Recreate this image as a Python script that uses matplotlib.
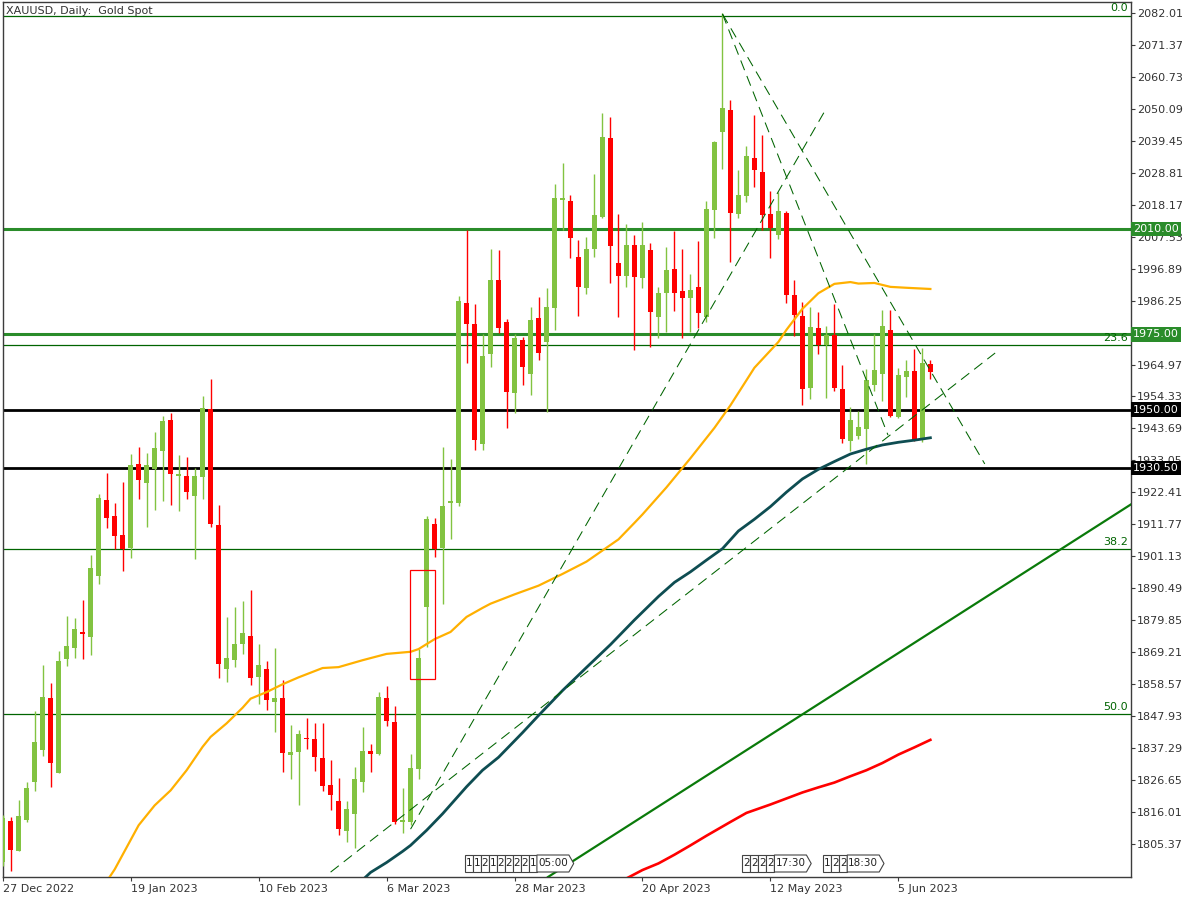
import matplotlib.pyplot as plt
from matplotlib.patches import Rectangle, Polygon
import matplotlib.transforms as mtransforms

# daily candles, bar 0 = 27 Dec 2022
opens = [1799.5, 1813.1, 1803.1, 1813.4, 1826.2, 1836.7, 1854.0, 1829.2, 1867.1, 1870.8,
         1876.0, 1874.4, 1894.7, 1919.9, 1914.6, 1908.3, 1904.0, 1931.9, 1925.7, 1930.3,
         1936.3, 1946.5, 1928.0, 1927.9, 1921.3, 1927.6, 1950.1, 1911.6, 1863.8, 1866.8,
         1872.1, 1874.6, 1861.0, 1863.7, 1852.8, 1854.0, 1835.2, 1836.2, 1840.7, 1840.4,
         1834.1, 1825.1, 1819.8, 1809.9, 1815.6, 1826.2, 1836.4, 1835.4, 1854.0, 1846.0,
         1812.9, 1812.9, 1830.5, 1884.4, 1911.9, 1904.0, 1918.8, 1918.8, 1985.4, 1978.4,
         1938.5, 1968.6, 1993.1, 1979.1, 1955.6, 1973.1, 1961.9, 1980.4, 1972.6, 1983.9,
         2019.7, 2019.4, 2000.7, 1990.5, 2003.5, 2014.0, 2040.3, 1998.7, 1994.5, 2004.7,
         1993.6, 2003.0, 1980.9, 1988.8, 1996.7, 1989.4, 1987.2, 1990.7, 1980.9, 2016.4,
         2042.4, 2049.6, 2015.1, 2021.1, 2033.7, 2029.0, 2015.0, 2008.0, 2015.3, 1988.1,
         1981.1, 1957.3, 1977.1, 1971.6, 1974.9, 1956.8, 1939.6, 1941.3, 1943.5, 1958.3,
         1961.9, 1976.4, 1947.6, 1960.9, 1962.8, 1939.9, 1965.1]
highs = [1815.0, 1814.6, 1820.1, 1826.1, 1849.7, 1865.0, 1859.1, 1869.7, 1881.3, 1880.6,
         1886.6, 1901.5, 1921.9, 1928.9, 1918.9, 1925.9, 1935.2, 1937.5, 1935.5, 1942.5,
         1947.8, 1948.8, 1934.9, 1934.2, 1930.7, 1954.5, 1960.0, 1918.2, 1881.0, 1884.3,
         1886.3, 1890.0, 1872.0, 1866.3, 1870.7, 1860.0, 1845.0, 1843.4, 1847.5, 1845.8,
         1845.8, 1833.4, 1827.4, 1819.8, 1831.2, 1844.5, 1838.7, 1856.0, 1858.0, 1851.4,
         1824.1, 1835.5, 1870.3, 1914.6, 1913.9, 1937.5, 1933.5, 1987.8, 2009.7, 1985.1,
         1975.1, 2003.4, 2003.1, 1980.1, 1975.1, 1974.1, 1984.1, 1987.4, 1990.5, 2025.0,
         2032.0, 2021.4, 2006.4, 2007.4, 2028.3, 2048.6, 2047.3, 2015.0, 2011.7, 2008.0,
         2012.5, 2005.3, 1990.6, 2004.1, 2009.4, 2003.4, 1995.1, 2006.0, 2019.4, 2039.4,
         2082.0, 2052.9, 2029.7, 2037.8, 2048.0, 2041.3, 2022.7, 2022.5, 2016.0, 1993.1,
         1985.7, 1984.1, 1982.4, 1977.8, 1985.0, 1964.8, 1950.9, 1949.5, 1963.5, 1975.0,
         1983.1, 1983.1, 1963.7, 1966.5, 1970.1, 1970.6, 1966.5]
lows = [1798.0, 1796.6, 1803.0, 1812.9, 1823.2, 1834.7, 1824.5, 1829.2, 1864.8, 1867.4,
        1866.9, 1868.3, 1892.1, 1910.7, 1903.6, 1896.3, 1900.7, 1920.3, 1911.0, 1916.7,
        1919.7, 1918.3, 1916.3, 1920.3, 1900.4, 1920.3, 1911.0, 1860.8, 1859.5, 1864.5,
        1868.8, 1858.5, 1852.1, 1850.1, 1842.8, 1829.5, 1827.2, 1818.5, 1836.9, 1829.8,
        1823.1, 1816.9, 1808.4, 1806.2, 1804.2, 1822.6, 1829.5, 1835.1, 1844.7, 1812.1,
        1809.0, 1811.8, 1827.2, 1871.1, 1901.0, 1885.4, 1907.0, 1917.9, 1965.6, 1936.5,
        1936.5, 1964.2, 1975.6, 1943.7, 1948.7, 1958.3, 1954.9, 1966.6, 1949.3, 1976.6,
        2009.8, 2000.5, 1981.2, 1988.5, 2000.8, 2013.6, 1992.2, 1980.9, 1990.9, 1969.8,
        1990.3, 1970.9, 1973.7, 1975.9, 1982.9, 1973.7, 1975.9, 1977.0, 1979.2, 2007.2,
        2030.1, 1999.2, 2013.8, 2019.1, 2024.1, 2009.7, 2000.5, 2006.7, 1985.3, 1974.5,
        1951.6, 1953.6, 1968.6, 1953.9, 1956.3, 1938.7, 1936.3, 1940.1, 1931.8, 1956.0,
        1952.8, 1947.6, 1947.1, 1954.3, 1939.6, 1939.3, 1960.1]
closes = [1814.0, 1803.5, 1814.8, 1824.1, 1839.4, 1854.5, 1832.5, 1866.3, 1871.3, 1877.0,
          1875.3, 1897.3, 1920.7, 1914.0, 1908.0, 1903.6, 1931.5, 1926.7, 1931.5, 1937.2,
          1946.2, 1928.7, 1928.5, 1922.7, 1927.9, 1950.4, 1912.0, 1865.4, 1867.3, 1872.0,
          1875.6, 1860.8, 1865.0, 1853.5, 1854.0, 1835.8, 1836.0, 1842.0, 1840.3, 1834.5,
          1824.9, 1821.9, 1810.4, 1817.1, 1827.1, 1836.4, 1835.5, 1854.3, 1846.5, 1812.8,
          1813.5, 1830.7, 1867.3, 1913.6, 1903.6, 1917.9, 1919.6, 1986.1, 1978.4, 1939.9,
          1967.8, 1993.1, 1977.2, 1955.9, 1973.8, 1964.2, 1979.8, 1968.9, 1984.1, 2020.2,
          2020.2, 2007.2, 1990.9, 2003.4, 2014.7, 2040.6, 2004.5, 1994.5, 2004.7, 1994.0,
          2004.7, 1982.5, 1988.6, 1996.4, 1988.8, 1987.2, 1989.7, 1982.2, 2016.7, 2039.0,
          2050.3, 2015.5, 2021.3, 2034.3, 2029.8, 2014.8, 2010.5, 2016.0, 1988.1, 1981.4,
          1956.8, 1977.4, 1971.6, 1974.9, 1957.3, 1940.2, 1946.5, 1944.2, 1959.8, 1963.1,
          1977.8, 1947.8, 1961.5, 1962.8, 1939.9, 1965.6, 1962.6]

# moving averages (bar index, price)
ma_fast_x = [13, 14, 16, 17, 19, 21, 23, 25, 26, 28, 30, 31, 33, 35, 37, 40, 42, 45, 48, 51,
             52, 54, 56, 58, 60, 61, 64, 67, 70, 73, 77, 79, 80, 83, 86, 89, 91, 94, 97, 98,
             100, 102, 104, 106, 107, 109, 111, 113, 116]
ma_fast_y = [1793.0, 1797.0, 1806.8, 1811.7, 1818.3, 1823.3, 1830.0, 1837.8, 1841.1, 1845.6,
             1850.8, 1853.8, 1856.0, 1858.6, 1860.9, 1864.0, 1864.3, 1866.6, 1868.7, 1869.4,
             1870.3, 1873.6, 1876.0, 1881.0, 1884.0, 1885.4, 1888.5, 1891.4, 1895.3, 1899.4,
             1906.8, 1912.3, 1915.1, 1924.1, 1933.8, 1943.9, 1951.4, 1963.9, 1972.5, 1976.5,
             1983.5, 1988.7, 1991.8, 1992.4, 1991.9, 1992.1, 1990.8, 1990.5, 1990.1]
ma_mid_x = [45, 46, 48, 50, 51, 53, 55, 58, 60, 62, 65, 67, 70, 73, 76, 79, 82, 84, 86, 88,
            90, 92, 94, 96, 98, 100, 102, 104, 106, 108, 110, 112, 114, 116]
ma_mid_y = [1793.5, 1796.0, 1799.3, 1803.0, 1805.0, 1810.0, 1815.5, 1824.5, 1830.0, 1834.3,
            1842.5, 1848.2, 1856.5, 1864.2, 1871.8, 1880.0, 1887.8, 1892.5, 1896.0, 1899.9,
            1903.7, 1909.6, 1913.5, 1917.7, 1922.5, 1926.9, 1930.1, 1932.7, 1935.2, 1936.8,
            1938.2, 1939.1, 1939.8, 1940.6]
ma_slow_x = [77, 78, 80, 82, 84, 86, 88, 91, 93, 96, 98, 100, 102, 104, 106, 108, 110, 112,
             114, 116]
ma_slow_y = [1792.5, 1794.0, 1796.8, 1799.0, 1801.9, 1805.0, 1808.2, 1812.8, 1815.8, 1818.6,
             1820.6, 1822.6, 1824.3, 1825.9, 1828.0, 1830.0, 1832.4, 1835.2, 1837.6, 1840.1]

# levels and drawings
fib_levels = [0.0, 23.6, 38.2, 50.0]
fib_high = 2081.0
fib_low = 1616.4
green_levels = [2010.00, 1975.00]
black_levels = [1950.00, 1930.50]
dashed_lines = [[(90, 2081.6), (110.7, 1941.5)],
                [(90, 2081.6), (122.8, 1931.9)],
                [(51.0, 1810.4), (102.8, 2049.3)],
                [(41.0, 1796.1), (124.1, 1968.8)]]
trend_line = [(68.2, 1794.5), (141.0, 1918.3)]
box_x = (50.96, 54.0)
box_y = (1860.2, 1896.6)

date_ticks = [0, 16, 32, 48, 64, 80, 96, 112]
date_labels = ['27 Dec 2022', '19 Jan 2023', '10 Feb 2023', '6 Mar 2023',
               '28 Mar 2023', '20 Apr 2023', '12 May 2023', '5 Jun 2023']
price_ticks = [2082.01, 2071.37, 2060.73, 2050.09, 2039.45, 2028.81, 2018.17, 2007.53,
               1996.89, 1986.25, 1975.61, 1964.97, 1954.33, 1943.69, 1933.05, 1922.41,
               1911.77, 1901.13, 1890.49, 1879.85, 1869.21, 1858.57, 1847.93, 1837.29,
               1826.65, 1816.01, 1805.37]
hidden_ticks = [1975.61]  # fully covered by the 1975.00 price box

# calendar event markers along the bottom (bar position, label)
events = [(57.8, '1'), (58.8, '1'), (59.8, '2'), (60.8, '1'), (61.8, '2'), (62.8, '2'),
          (63.8, '2'), (64.8, '2'), (65.8, '1'), (66.8, '05:00'),
          (92.5, '2'), (93.5, '2'), (94.5, '2'), (95.5, '2'), (96.5, '17:30'),
          (102.6, '1'), (103.6, '2'), (104.6, '2'), (105.6, '18:30')]

bull = '#82C341'
bear = '#FF0000'
fib_col = '#006400'
lvl_green = '#2A8C2A'
txt_col = '#333333'

fig = plt.figure(figsize=(12, 9), dpi=100)
ax = fig.add_axes([2.7 / 1200, 23 / 900, 1128 / 1200, 875 / 900])
ax.set_xlim(0.05, 141.05)
ax.set_ylim(1794.48, 2085.57)

# candles
for i in range(len(opens)):
    o, h, l, c = opens[i], highs[i], lows[i], closes[i]
    col = bull if c >= o else bear
    ax.vlines(i, l, h, color=col, lw=1.0, zorder=3)
    body = max(abs(c - o), 0.5)
    ax.add_patch(Rectangle((i - 0.31, min(o, c)), 0.62, body, facecolor=col,
                           edgecolor='none', zorder=3))

# moving averages
ax.plot(ma_fast_x, ma_fast_y, color='#FFB000', lw=1.6, zorder=4)
ax.plot(ma_mid_x, ma_mid_y, color='#0E4D52', lw=2.0, zorder=4)
ax.plot(ma_slow_x, ma_slow_y, color='#FF0000', lw=1.9, zorder=4)

# fibonacci lines
for lev in fib_levels:
    p = fib_high - (fib_high - fib_low) * lev / 100
    ax.axhline(p, color=fib_col, lw=0.9, zorder=2)
    ax.text(140.7, p + 0.8, f'{lev:.1f}', color=fib_col, fontsize=8,
            ha='right', va='bottom', zorder=5)

# horizontal levels with price boxes on the scale
trans_lbl = mtransforms.blended_transform_factory(ax.transAxes, ax.transData)
for p in green_levels:
    ax.axhline(p, color=lvl_green, lw=2.2, zorder=2)
    ax.text(1.002, p, f'{p:.2f}', transform=trans_lbl, color='white', fontsize=8,
            ha='left', va='center', zorder=10, clip_on=False,
            bbox=dict(boxstyle='square,pad=0.2', fc=lvl_green, ec='none'))
for p in black_levels:
    ax.axhline(p, color='black', lw=2.0, zorder=2)
    ax.text(1.002, p, f'{p:.2f}', transform=trans_lbl, color='white', fontsize=8,
            ha='left', va='center', zorder=10, clip_on=False,
            bbox=dict(boxstyle='square,pad=0.2', fc='black', ec='none'))

# trend lines
for (x0, y0), (x1, y1) in dashed_lines:
    ax.plot([x0, x1], [y0, y1], color=fib_col, lw=0.75, ls=(0, (10, 6)), zorder=5)
ax.axline(trend_line[0], trend_line[1], color='#0A7A0A', lw=1.6, zorder=5)

ax.add_patch(Rectangle((box_x[0], box_y[0]), box_x[1] - box_x[0], box_y[1] - box_y[0],
                       facecolor='none', edgecolor='#FF0000', lw=0.9, zorder=6))

# event markers
trans_ev = mtransforms.blended_transform_factory(ax.transData, ax.transAxes)
y0, y1 = 5 / 875, 22 / 875
for x, lab in events:
    if len(lab) > 2:
        w = 4.0
        pts = [(x, y0), (x + w, y0), (x + w + 0.6, (y0 + y1) / 2), (x + w, y1), (x, y1)]
    else:
        w = 1.0
        pts = [(x, y0), (x + w, y0), (x + w, y1), (x, y1)]
    ax.add_patch(Polygon(pts, closed=True, transform=trans_ev, facecolor='white',
                         edgecolor='#444444', lw=0.8, zorder=7))
    ax.text(x + w / 2, (y0 + y1) / 2, lab, transform=trans_ev, fontsize=7.5,
            color='#222222', ha='center', va='center', zorder=8)

# axes styling
for s in ax.spines.values():
    s.set_color('#3C3C3C')
    s.set_linewidth(1.0)
ax.yaxis.tick_right()
ax.set_yticks(price_ticks)
ax.set_yticklabels(['' if p in hidden_ticks else f'{p:.2f}' for p in price_ticks])
ax.set_xticks(date_ticks)
ax.set_xticklabels(date_labels, ha='left')
ax.tick_params(axis='both', direction='out', length=3, width=0.8, colors='#3C3C3C',
               labelsize=8, labelcolor=txt_col, pad=2)
ax.tick_params(axis='y', pad=1.5)

fig.text(6 / 1200, 1 - 11 / 900, 'XAUUSD, Daily:  Gold Spot', fontsize=8,
         color=txt_col, ha='left', va='center')

fig.savefig('out.png', dpi=100, facecolor='white')
